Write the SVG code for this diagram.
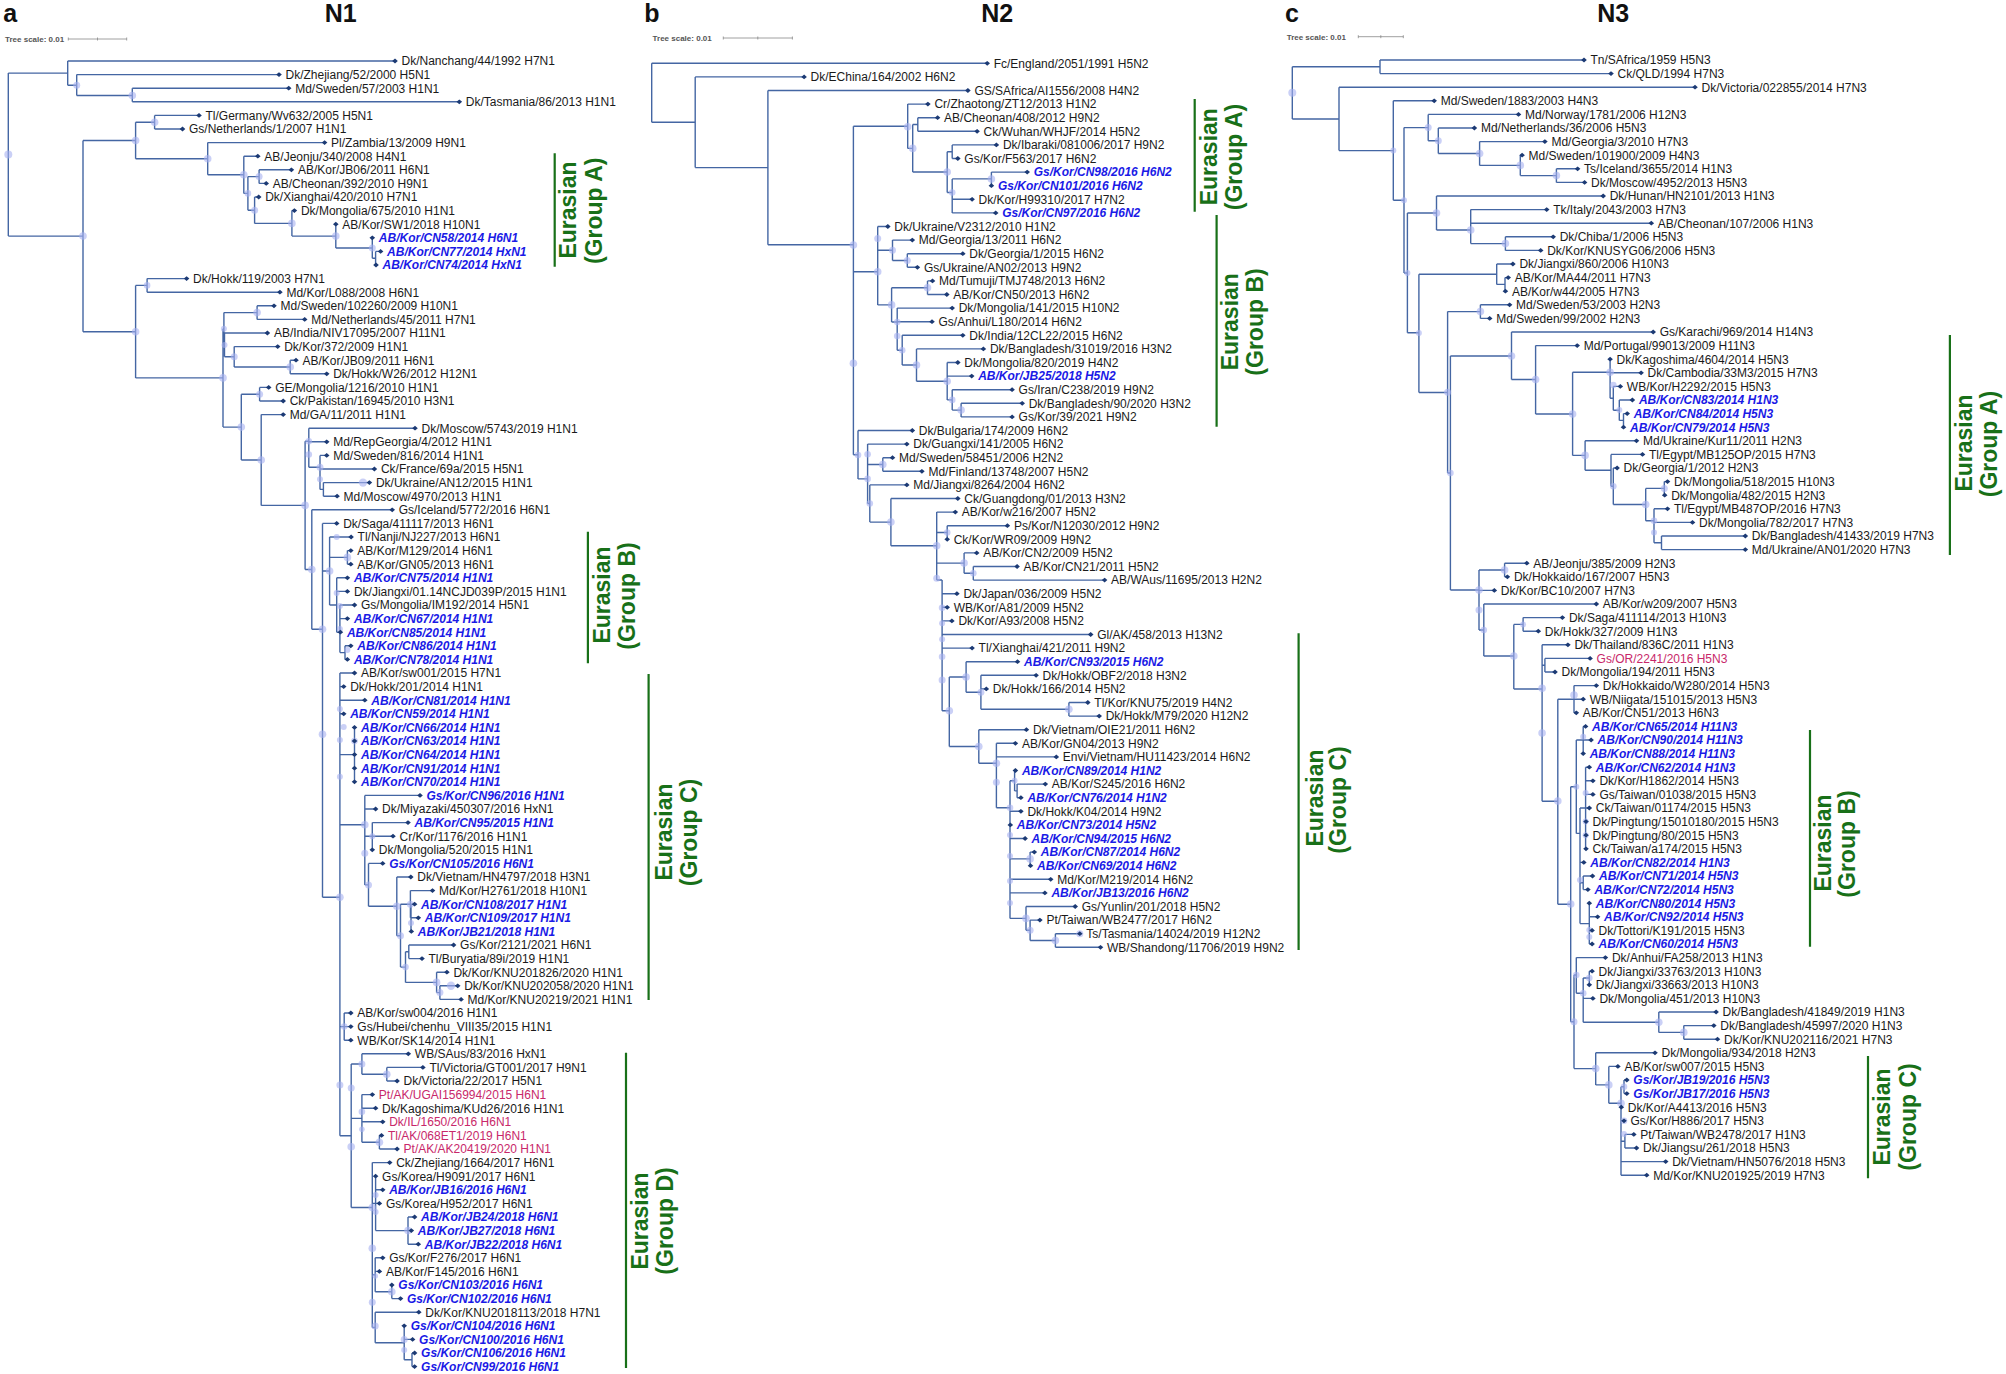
<svg xmlns="http://www.w3.org/2000/svg" xmlns:xlink="http://www.w3.org/1999/xlink" width="2006" height="1374" viewBox="0 0 2006 1374">
<style>
text{font-family:"Liberation Sans",Arial,sans-serif}
.lf text{font-size:12px;fill:#1a1a1a}
.lf text.b{font-weight:bold;font-style:italic;fill:#1a1ae6}
.lf text.p{fill:#c8286a}
.br{fill:none;stroke:#4466a3;stroke-width:1.4}
.bs{fill:#a7b0f0;fill-opacity:.6}
.gl{stroke:#187018;stroke-width:2.2}
.gt{font-size:23px;font-weight:bold;fill:#187018}
.ttl{font-size:25px;font-weight:bold;fill:#111}
.sc{font-size:8px;font-weight:bold;fill:#555}
.scl{stroke:#888;stroke-width:.8;fill:none}
</style>
<defs>
<path id="dm" d="M-2.8 0L0-2.4L2.8 0L0 2.4Z" fill="#1c3a74"/>
</defs>
<rect width="2006" height="1374" fill="#fff"/>
<g id="titles">
<text class="ttl" x="3.3" y="21.7">a</text>
<text class="ttl" x="340.7" y="21.7" text-anchor="middle">N1</text>
<text class="ttl" x="644.2" y="21.7">b</text>
<text class="ttl" x="997.3" y="21.7" text-anchor="middle">N2</text>
<text class="ttl" x="1285" y="21.7">c</text>
<text class="ttl" x="1613.3" y="21.7" text-anchor="middle">N3</text>
<text class="sc" x="5" y="42">Tree scale: 0.01</text>
<path class="scl" d="M68.3 39H126.7M68.3 37.5V40.5M97.5 37.5V40.5M126.7 37.5V40.5"/>
<text class="sc" x="652.6" y="41">Tree scale: 0.01</text>
<path class="scl" d="M723.3 38H792.4M723.3 36.5V39.5M757.8 36.5V39.5M792.4 36.5V39.5"/>
<text class="sc" x="1286.7" y="39.7">Tree scale: 0.01</text>
<path class="scl" d="M1358.3 36.7H1403.3M1358.3 35.2V38.2M1380.8 35.2V38.2M1403.3 35.2V38.2"/>
</g>
<g id="connectors">
<path class="br" d="M8.3,73.1V236.1M8.3,73.1H67.7M8.3,236.1H83M67.7,61V85.3M67.7,61H395M67.7,85.3H76.7M76.7,74.6V95.5M76.7,74.6H279M76.7,95.5H132.3M132.3,88.2V101.8M132.3,88.2H288.7M132.3,101.8H459.3M83,140.5V331.7M83,140.5H135.6M83,331.7H135.6M135.6,122.2V158.7M135.6,122.2H154.6M135.6,158.7H207.7M154.6,115.4V129M154.6,115.4H199M154.6,129H182.5M207.7,142.6V174.8M207.7,142.6H324.6M207.7,174.8H243.8M243.8,156.2V193.4M243.8,156.2H257.8M243.8,193.4H247.9M247.9,176.6V210.2M247.9,176.6H259.1M247.9,210.2H254.6M259.1,169.8V183.4M259.1,169.8H291.4M259.1,183.4H266.2M254.6,197V223.4M254.6,197H258.7M254.6,223.4H291.9M291.9,210.6V236.1M291.9,210.6H294.4M291.9,236.1H335.8M335.8,224.2V248M335.8,248H372.3M372.3,237.8V258.2M372.3,258.2H375.6M375.6,251.4V265M375.6,251.4H380.6M375.6,265H376"/>
<path class="br" d="M135.6,285.4V377.9M135.6,285.4H147.1M135.6,377.9H223M147.1,278.6V292.2M147.1,278.6H186.6M147.1,292.2H279.9M223,328.8V427.1M223,328.8H223.9M223,427.1H241.3M223.9,312.6V344.9M223.9,312.6H257.1M223.9,344.9H224.5M257.1,305.8V319.4M257.1,305.8H274M257.1,319.4H304.7M224.5,333V356.8M224.5,333H267.4M224.5,356.8H234.2M234.2,346.6V367M234.2,346.6H277.7M234.2,367H290.2M290.2,360.2V373.8M290.2,360.2H296M290.2,373.8H326.7M241.3,394.2V460M241.3,394.2H259.6M241.3,460H261.2M259.6,387.4V401M259.6,387.4H268.7M259.6,401H283.2M261.2,414.6V505.4M261.2,414.6H283.2M261.2,505.4H305.1M305.1,441.3V569.5M305.1,441.3H308.8M305.1,569.5H311.8M308.8,428.2V467.3M308.8,428.2H415M308.8,441.8H326.7M308.8,467.3H320M320,455.4V489.4M320,455.4H326.7M320,469H374.4M320,489.4H323.4M323.4,482.6V496.2M323.4,482.6H369.4M323.4,496.2H337.1M311.8,509.8V629.3M311.8,509.8H392.2M311.8,629.3H322.5M322.5,523.4V897.3M322.5,523.4H336.7M322.5,571H329.6M322.5,897.3H339.9M329.6,537V605M329.6,537H351.1M329.6,557.4H347.4M329.6,605H336.7M347.4,550.6V564.2M347.4,550.6H350.8M347.4,564.2H350.8M336.7,577.8V632.2M336.7,577.8H347.4M336.7,591.4H347.4M336.7,632.2H339.9M339.9,605V652.6M339.9,605H354.5M339.9,618.6H347.4M339.9,652.6H345M345,645.8V659.4M345,645.8H350.8M345,659.4H347.4"/>
<path class="br" d="M339.9,673V1135.8M339.9,673H354.5M339.9,686.6H343.7M339.9,700.2H364.8M339.9,713.8H343.7M339.9,754.6H354.5M339.9,824.7H364.8M339.9,1026.6H344.2M339.9,1135.8H351.2M354.5,727.4V781.8M364.8,795.4V884.9M364.8,795.4H420M364.8,809H375.6M364.8,836.2H372.3M364.8,884.9H368.5M372.3,822.6V849.8M372.3,822.6H408M372.3,836.2H393M368.5,863.4V906.3M368.5,863.4H382.7M368.5,906.3H396.8M396.8,877V935.7M396.8,877H410.8M396.8,935.7H400.5M400.5,904.2V967.1M400.5,904.2H410.4M400.5,967.1H405.5M410.4,890.6V917.8M410.4,890.6H432.5M410.4,917.8H411M411,904.2V931.4M411,904.2H414.6M411,917.8H418.3M411,931.4H411.3M405.5,951.8V982.4M405.5,951.8H408.8M405.5,982.4H436.6M408.8,945V958.6M408.8,945H453.6M408.8,958.6H422M436.6,972.2V992.6M436.6,972.2H446.9M436.6,992.6H439.9M439.9,985.8V999.4M439.9,985.8H457.7M439.9,999.4H461.1M344.2,1013V1040.2M344.2,1013H350.8M344.2,1026.6H350.8M344.2,1040.2H350.8"/>
<path class="br" d="M351.2,1064V1207.5M351.2,1064H361.9M351.2,1118.4H361.9M351.2,1207.5H372.3M361.9,1053.8V1074.2M361.9,1053.8H408.3M361.9,1074.2H386.8M386.8,1067.4V1081M386.8,1067.4H422.9M386.8,1081H397.1M361.9,1094.6V1142.2M361.9,1094.6H372.3M361.9,1108.2H375.6M361.9,1121.8H382.7M361.9,1142.2H379.4M379.4,1135.4V1149M379.4,1135.4H381.5M379.4,1149H397.1M372.3,1162.6V1327.5M372.3,1162.6H389.7M372.3,1203.4H375.6M372.3,1274.8H375.2M372.3,1327.5H375.2M375.6,1176.2V1230.6M375.6,1189.8H382.7M375.6,1203.4H379.4M375.6,1230.6H408M408,1217V1244.2M408,1217H414.6M408,1230.6H411.3M408,1244.2H418.3M375.2,1257.8V1291.8M375.2,1257.8H382.7M375.2,1271.4H379.4M375.2,1291.8H391.8M391.8,1285V1298.6M391.8,1298.6H400.5M375.2,1312.2V1342.8M375.2,1312.2H418.8M375.2,1342.8H404.2M404.2,1325.8V1359.8M404.2,1339.4H412.6M404.2,1359.8H412M412,1353V1366.6M412,1353H414.6M412,1366.6H414.6"/>
<path class="br" d="M651.7,63.3V122.3M651.7,63.3H987.2M651.7,122.3H695.2M695.2,76.9V167.6M695.2,76.9H804.1M695.2,167.6H767.9M767.9,90.5V244.8M767.9,90.5H967.9M767.9,244.8H853.4M853.4,126.2V454.7M853.4,126.2H907.7M853.4,271.7H877.7M853.4,454.7H858M907.7,104.1V148.4M907.7,104.1H927.9M907.7,148.4H912.7M912.7,124.5V172M912.7,124.5H917.8M912.7,172H947.2M917.8,117.7V131.3M917.8,117.7H937.6M917.8,131.3H977.1M947.2,151.7V192.5M947.2,151.7H952.2M947.2,192.5H952.2M952.2,144.9V158.5M952.2,144.9H996.4M952.2,158.5H957.8M952.2,178.9V212.9M952.2,178.9H991.4M952.2,199.3H972.1M952.2,212.9H995.7M991.4,172.1V185.7M991.4,172.1H1027.2M877.7,226.5V304.9M877.7,226.5H887.8M877.7,250.3H892.5M877.7,304.9H891.6M892.5,240.1V260.5M892.5,240.1H912.3M892.5,260.5H907.3M907.3,253.7V267.3M907.3,253.7H962.8M907.3,267.3H917.4M891.6,287.7V322M891.6,287.7H927.5M891.6,322H897.2M927.5,280.9V294.5M927.5,280.9H932.5M927.5,294.5H946.8M897.2,308.1V350.2M897.2,308.1H952.2M897.2,321.7H932M897.2,350.2H902.2M902.2,335.3V365M902.2,335.3H962.8M902.2,365H916.5M916.5,348.9V381.2M916.5,348.9H983.4M916.5,381.2H947.2M947.2,362.5V399.9M947.2,362.5H957.8M947.2,376.1H971.7M947.2,399.9H952.2M952.2,389.7V410.1M952.2,389.7H1012.1M952.2,410.1H961.1M961.1,403.3V416.9M961.1,403.3H1022.2M961.1,416.9H1012.1"/>
<path class="br" d="M858,430.5V478.9M858,430.5H912.3M858,478.9H867.6M867.6,444.1V503.5M867.6,444.1H906.8M867.6,464.5H882.8M867.6,503.5H869.8M882.8,457.7V471.3M882.8,457.7H892.5M882.8,471.3H921.9M869.8,484.9V522.1M869.8,484.9H906.8M869.8,522.1H890.9M890.9,498.5V545.7M890.9,498.5H957.8M890.9,545.7H936.7M936.7,512.1V580M936.7,512.1H955.3M936.7,532.5H947.2M936.7,563.1H964.1M936.7,580H942.1M947.2,525.7V539.3M947.2,525.7H1007.4M964.1,552.9V573.3M964.1,552.9H976.7M964.1,573.3H973.3M973.3,566.5V580.1M973.3,566.5H1017.1M973.3,580.1H1104.6M942.1,580V710.8M942.1,593.7H956.9M942.1,607.3H947.2M942.1,620.9H951.9M942.1,634.5H1090.7M942.1,648.1H972.1M942.1,710.8H949.3M949.3,677V746.5M949.3,677H966.1M949.3,746.5H978.8M966.1,661.7V692.3M966.1,661.7H1017.5M966.1,692.3H980.9M980.9,675.3V709.3M980.9,675.3H1036.1M980.9,688.9H986.3M980.9,709.3H1068.9M1068.9,702.5V716.1M1068.9,702.5H1087.8M1068.9,716.1H1099.2M978.8,729.7V763.3M978.8,729.7H1026.4M978.8,763.3H996.4M996.4,743.3V807.7M996.4,743.3H1015.4M996.4,756.9H1056.3M996.4,807.7H1010M1010,780.7V918.4M1010,780.7H1014.6M1010,811.3H1020.9M1010,838.5H1025.1M1010,858.9H1030.1M1010,879.3H1050.7M1010,892.9H1044.9M1010,918.4H1026M1014.6,770.5V790.9M1014.6,770.5H1015.4M1014.6,790.9H1017.1M1017.1,784.1V797.7M1017.1,784.1H1045.3M1017.1,797.7H1020.9M1030.1,852.1V865.7M1030.1,852.1H1034.3M1026,906.5V930.3M1026,906.5H1075.2M1026,930.3H1030.1M1030.1,920.1V940.5M1030.1,920.1H1039.9M1030.1,940.5H1055.4M1055.4,933.7V947.3M1055.4,933.7H1079.8M1055.4,947.3H1100.5"/>
<path class="br" d="M1292.3,66.8V118.95M1292.3,66.8H1380M1292.3,118.95H1339M1380,60V73.6M1380,60H1584M1380,73.6H1611M1339,87.2V150.6M1339,87.2H1695M1339,150.6H1393.3M1393.3,100.8V200.3M1393.3,100.8H1434.2M1393.3,200.3H1404M1404,127.6V273M1404,127.6H1428.2M1404,273H1407.4M1428.2,114.4V140.75M1428.2,114.4H1518.5M1428.2,140.75H1438.3M1438.3,128V153.5M1438.3,128H1474.4M1438.3,153.5H1479.6M1479.6,141.6V165.4M1479.6,141.6H1544.9M1479.6,165.4H1520.3M1520.3,155.2V175.6M1520.3,155.2H1522.1M1520.3,175.6H1556.4M1556.4,168.8V182.4M1556.4,168.8H1577.6M1556.4,182.4H1584.6M1407.4,213V332.8M1407.4,213H1436.5M1407.4,332.8H1418.9M1436.5,196V230M1436.5,196H1603.2M1436.5,230H1470.7M1470.7,209.6V243.6M1470.7,209.6H1546.7M1470.7,223.2H1651.3M1470.7,243.6H1505.4M1505.4,236.8V250.4M1505.4,236.8H1553.2M1505.4,250.4H1540.7M1418.9,274.2V392.45M1418.9,274.2H1496.7M1418.9,392.45H1447.6M1496.7,264V284.4M1496.7,264H1512.9M1496.7,284.4H1505M1505,277.6V291.2M1505,277.6H1508.2M1505,291.2H1505.4M1447.6,311.6V473M1447.6,311.6H1480.4M1447.6,473H1450.4M1480.4,304.8V318.4M1480.4,304.8H1509.6M1480.4,318.4H1489.7M1450.4,356V590M1450.4,356H1511.5M1450.4,590H1479"/>
<path class="br" d="M1511.5,332V379.5M1511.5,332H1653.2M1511.5,379.5H1535.6M1535.6,345.6V414M1535.6,345.6H1577.2M1535.6,414H1572.6M1572.6,372.3V455.4M1572.6,372.3H1610.1M1572.6,455.4H1585.1M1610.1,359.2V398.3M1610.1,372.8H1641.1M1610.1,398.3H1613.3M1613.3,386.4V410.2M1613.3,386.4H1620.3M1613.3,410.2H1619.3M1619.3,400V420.4M1619.3,400H1632.4M1619.3,420.4H1623.5M1623.5,413.6V427.2M1623.5,413.6H1627.2M1585.1,440.8V470.3M1585.1,440.8H1636.5M1585.1,470.3H1611M1611,454.4V486.2M1611,454.4H1642.5M1611,486.2H1613.3M1613.3,468V504.5M1613.3,468H1617.1M1613.3,504.5H1645.7M1645.7,488.4V520.7M1645.7,488.4H1664.3M1645.7,520.7H1654M1664.3,481.6V495.2M1664.3,481.6H1667.5M1664.3,495.2H1664.7M1654,508.8V542.8M1654,508.8H1667.5M1654,522.4H1692.5M1654,542.8H1661.5M1661.5,536V549.6M1661.5,536H1745.3M1661.5,549.6H1745.3"/>
<path class="br" d="M1479,570V630M1479,570H1504.6M1479,590.4H1494.3M1479,630H1483.8M1504.6,563.2V576.8M1504.6,563.2H1526.8M1504.6,576.8H1507.4M1483.8,604V656M1483.8,604H1596.3M1483.8,656H1513.8M1513.8,624.4V689M1513.8,624.4H1523.1M1513.8,689H1542.1M1523.1,617.6V631.2M1523.1,617.6H1562.4M1523.1,631.2H1538.3M1542.1,644.8V801.25M1542.1,644.8H1567.9M1542.1,665.2H1544.9M1542.1,801.25H1557.8M1544.9,658.4V672M1544.9,658.4H1590.1M1544.9,672H1555M1557.8,699.2V904.2M1557.8,699.2H1574M1557.8,904.2H1570.7M1574,685.6V712.8M1574,685.6H1596.3M1574,699.2H1583.2M1574,712.8H1576.3M1570.7,786.7V1021.7M1570.7,786.7H1576.3M1570.7,1021.7H1574M1576.3,740V833.4M1576.3,740H1583.2M1576.3,833.4H1580M1583.2,726.4V753.6M1583.2,726.4H1585.6M1583.2,740H1591.1M1580,808V923.6M1580,808H1585.6M1580,862.4H1583.8M1580,882.8H1583.2M1580,923.6H1589.3M1585.6,767.2V848.8M1585.6,767.2H1589.3M1585.6,780.8H1592.9M1585.6,794.4H1592.9M1585.6,808H1589.3M1583.2,876V889.6M1583.2,876H1592.5M1583.2,889.6H1587.9M1589.3,903.2V944M1589.3,916.8H1597.6M1589.3,930.4H1592.1M1589.3,944H1592.1M1574,975V1068.6M1574,975H1576.3M1574,1068.6H1595.7M1576.3,957.6V993.3M1576.3,957.6H1605.4M1576.3,993.3H1583.2M1583.2,978V1022.2M1583.2,978H1589.3M1583.2,998.4H1592.9M1583.2,1022.2H1658.8M1589.3,971.2V984.8M1589.3,971.2H1592.1M1658.8,1012V1032.4M1658.8,1012H1716.1M1658.8,1032.4H1683.8M1683.8,1025.6V1039.2M1683.8,1025.6H1713.8M1683.8,1039.2H1717.5M1595.7,1052.8V1084.9M1595.7,1052.8H1655M1595.7,1084.9H1608.8M1608.8,1066.4V1103.3M1608.8,1066.4H1617.9M1608.8,1103.3H1621M1621,1086.8V1175.2M1621,1086.8H1624M1621,1120.8H1624M1621,1141.2H1624.9M1621,1161.6H1665.7M1621,1175.2H1646.7M1624,1080V1093.6M1624,1080H1626.8M1624,1093.6H1626.8M1624.9,1134.4V1148M1624.9,1134.4H1633.8M1624.9,1148H1636.5"/>
</g>
<g id="support">
<circle class="bs" cx="8.3" cy="154.6" r="4"/><circle class="bs" cx="76.7" cy="85.3" r="3.5"/><circle class="bs" cx="132.3" cy="95.5" r="3.8"/><circle class="bs" cx="83" cy="236" r="3.8"/><circle class="bs" cx="135.6" cy="140.5" r="3.8"/><circle class="bs" cx="154.6" cy="122.2" r="3.8"/><circle class="bs" cx="207.7" cy="158.7" r="3.8"/><circle class="bs" cx="243.8" cy="174.8" r="3.8"/><circle class="bs" cx="259.1" cy="176.6" r="3.5"/><circle class="bs" cx="247.9" cy="193.4" r="3.3"/><circle class="bs" cx="254.6" cy="210.2" r="3.5"/><circle class="bs" cx="291.9" cy="223.4" r="3.8"/><circle class="bs" cx="335.8" cy="236.1" r="3.8"/><circle class="bs" cx="372.3" cy="248" r="3.5"/>
<circle class="bs" cx="147.1" cy="285.4" r="3.3"/><circle class="bs" cx="135.6" cy="331.7" r="3.8"/><circle class="bs" cx="257.1" cy="312.6" r="3.8"/><circle class="bs" cx="223.9" cy="328.8" r="3"/><circle class="bs" cx="224.5" cy="344.9" r="3"/><circle class="bs" cx="234.2" cy="356.8" r="3.5"/><circle class="bs" cx="290.2" cy="367" r="3.8"/><circle class="bs" cx="223" cy="377.9" r="3.8"/><circle class="bs" cx="259.6" cy="394.2" r="3.5"/><circle class="bs" cx="241.3" cy="427.1" r="3.8"/><circle class="bs" cx="261.2" cy="460" r="3.8"/><circle class="bs" cx="308.8" cy="441.3" r="3.3"/><circle class="bs" cx="308.8" cy="454.5" r="3.3"/><circle class="bs" cx="320" cy="467.3" r="3.5"/><circle class="bs" cx="320" cy="479.2" r="3"/><circle class="bs" cx="363" cy="482.6" r="4.2"/><circle class="bs" cx="305.1" cy="505.4" r="3.8"/><circle class="bs" cx="311.8" cy="569.5" r="3.8"/><circle class="bs" cx="336.7" cy="537" r="3"/><circle class="bs" cx="347.4" cy="557.4" r="3.8"/><circle class="bs" cx="329.6" cy="571" r="3.8"/><circle class="bs" cx="336.7" cy="593" r="3"/><circle class="bs" cx="339.9" cy="606" r="3"/><circle class="bs" cx="339.9" cy="629" r="3"/><circle class="bs" cx="347.4" cy="650" r="3"/><circle class="bs" cx="322.5" cy="629.3" r="3.8"/><circle class="bs" cx="322.5" cy="734.2" r="3.8"/>
<circle class="bs" cx="339.9" cy="709" r="3"/><circle class="bs" cx="343.7" cy="727" r="3"/><circle class="bs" cx="354.5" cy="741" r="3.3"/><circle class="bs" cx="339.9" cy="740" r="3"/><circle class="bs" cx="339.9" cy="776.7" r="3"/><circle class="bs" cx="364.8" cy="824.7" r="3.8"/><circle class="bs" cx="372.3" cy="836.2" r="3"/><circle class="bs" cx="364.8" cy="853.3" r="3.5"/><circle class="bs" cx="368.5" cy="884.9" r="3.5"/><circle class="bs" cx="396.8" cy="906.3" r="3.8"/><circle class="bs" cx="410.4" cy="904.2" r="3.5"/><circle class="bs" cx="411" cy="923" r="3"/><circle class="bs" cx="400.5" cy="935.7" r="3.5"/><circle class="bs" cx="405.5" cy="967.1" r="3.3"/><circle class="bs" cx="436.6" cy="982.4" r="3.8"/><circle class="bs" cx="451" cy="985.8" r="4.2"/><circle class="bs" cx="439.9" cy="992.6" r="3.5"/><circle class="bs" cx="339.9" cy="897.3" r="3.8"/><circle class="bs" cx="344.2" cy="1026.6" r="3.3"/><circle class="bs" cx="339.9" cy="1085" r="3.5"/><circle class="bs" cx="351.2" cy="1088" r="3.5"/><circle class="bs" cx="361.9" cy="1064" r="3.5"/><circle class="bs" cx="386.8" cy="1074.2" r="3.8"/><circle class="bs" cx="361.9" cy="1111.7" r="3.3"/><circle class="bs" cx="361.9" cy="1129.3" r="2.8"/><circle class="bs" cx="379.4" cy="1142.2" r="3.8"/><circle class="bs" cx="351.2" cy="1146.7" r="3.8"/><circle class="bs" cx="372.3" cy="1207.5" r="3.8"/><circle class="bs" cx="375.6" cy="1195" r="3"/><circle class="bs" cx="375.6" cy="1212" r="3"/><circle class="bs" cx="408" cy="1230.6" r="3.8"/><circle class="bs" cx="372.3" cy="1248.3" r="3.8"/><circle class="bs" cx="375.2" cy="1276" r="2.8"/><circle class="bs" cx="391.8" cy="1291.8" r="3.8"/><circle class="bs" cx="372.3" cy="1302.3" r="3.5"/><circle class="bs" cx="375.2" cy="1326" r="3.5"/><circle class="bs" cx="404.2" cy="1339.4" r="3.5"/><circle class="bs" cx="404.2" cy="1350" r="3"/>
<circle class="bs" cx="853.4" cy="245" r="3.8"/><circle class="bs" cx="853.4" cy="363.3" r="3.8"/><circle class="bs" cx="907.7" cy="126.7" r="3.8"/><circle class="bs" cx="912.7" cy="148.4" r="3.8"/><circle class="bs" cx="947.2" cy="172" r="3.8"/><circle class="bs" cx="952.2" cy="192.5" r="3.3"/><circle class="bs" cx="991.4" cy="179" r="3.8"/><circle class="bs" cx="877.7" cy="238.4" r="3.5"/><circle class="bs" cx="877.7" cy="271.7" r="3.8"/><circle class="bs" cx="892.5" cy="250.3" r="3.5"/><circle class="bs" cx="907.3" cy="260.5" r="3.5"/><circle class="bs" cx="927.5" cy="287.7" r="3.8"/><circle class="bs" cx="891.6" cy="304.9" r="3.8"/><circle class="bs" cx="897.2" cy="322" r="3.3"/><circle class="bs" cx="897.2" cy="336" r="3.3"/><circle class="bs" cx="902.2" cy="350.2" r="3.3"/><circle class="bs" cx="916.5" cy="365" r="3.8"/><circle class="bs" cx="947.2" cy="381.2" r="3.8"/><circle class="bs" cx="952.2" cy="399.9" r="3.3"/><circle class="bs" cx="961.1" cy="410.1" r="3.8"/>
<circle class="bs" cx="858" cy="455" r="3.3"/><circle class="bs" cx="867.6" cy="454.3" r="3.3"/><circle class="bs" cx="882.8" cy="464.5" r="3.8"/><circle class="bs" cx="867.6" cy="478.9" r="3.3"/><circle class="bs" cx="869.8" cy="503.5" r="3.3"/><circle class="bs" cx="890.9" cy="522.1" r="3.8"/><circle class="bs" cx="936.7" cy="545.7" r="3.8"/><circle class="bs" cx="947.2" cy="532.5" r="3.3"/><circle class="bs" cx="936.7" cy="578.3" r="3.5"/><circle class="bs" cx="964.1" cy="563.1" r="3.8"/><circle class="bs" cx="973.3" cy="573.3" r="3.3"/><circle class="bs" cx="942.1" cy="607.7" r="3.3"/><circle class="bs" cx="942.1" cy="623.3" r="3"/><circle class="bs" cx="942.1" cy="639.3" r="3"/><circle class="bs" cx="942.1" cy="656.7" r="3.3"/><circle class="bs" cx="942.1" cy="680" r="3.5"/><circle class="bs" cx="949.3" cy="710.8" r="3.8"/><circle class="bs" cx="966.1" cy="677" r="3.8"/><circle class="bs" cx="980.9" cy="692.3" r="3.5"/><circle class="bs" cx="1068.9" cy="709.3" r="3.8"/><circle class="bs" cx="978.8" cy="746.5" r="3.8"/><circle class="bs" cx="996.4" cy="763.3" r="3.8"/><circle class="bs" cx="996.4" cy="782.3" r="3.5"/><circle class="bs" cx="1010" cy="807.7" r="3.3"/><circle class="bs" cx="1014.6" cy="780.7" r="3"/><circle class="bs" cx="1010" cy="835" r="3"/><circle class="bs" cx="1010" cy="856" r="3"/><circle class="bs" cx="1030.1" cy="858.9" r="3.8"/><circle class="bs" cx="1010" cy="881" r="3"/><circle class="bs" cx="1010" cy="903" r="3"/><circle class="bs" cx="1026" cy="918.4" r="3.8"/><circle class="bs" cx="1030.1" cy="930.3" r="3.5"/><circle class="bs" cx="1055.4" cy="940.5" r="3.8"/><circle class="bs" cx="1079.8" cy="933.7" r="3.5"/>
<circle class="bs" cx="1292.3" cy="92.7" r="4"/><circle class="bs" cx="1393.3" cy="150.6" r="3"/><circle class="bs" cx="1404" cy="200.3" r="3"/><circle class="bs" cx="1428.2" cy="127.6" r="3.5"/><circle class="bs" cx="1438.3" cy="140.75" r="3.5"/><circle class="bs" cx="1479.6" cy="153.5" r="3.8"/><circle class="bs" cx="1520.3" cy="165.4" r="3.8"/><circle class="bs" cx="1556.4" cy="175.6" r="3.8"/><circle class="bs" cx="1407.4" cy="273" r="3"/><circle class="bs" cx="1436.5" cy="213" r="3.8"/><circle class="bs" cx="1470.7" cy="230" r="3.8"/><circle class="bs" cx="1505.4" cy="243.6" r="3.8"/><circle class="bs" cx="1418.9" cy="333" r="3"/><circle class="bs" cx="1447.6" cy="392.3" r="3.5"/><circle class="bs" cx="1480.4" cy="311.6" r="3.8"/><circle class="bs" cx="1450.4" cy="473" r="3.3"/><circle class="bs" cx="1511.5" cy="356" r="3.8"/><circle class="bs" cx="1535.6" cy="379.5" r="3.8"/><circle class="bs" cx="1572.6" cy="414" r="3.8"/><circle class="bs" cx="1610.1" cy="372.3" r="3.8"/><circle class="bs" cx="1613.3" cy="385" r="3.3"/><circle class="bs" cx="1619.3" cy="410" r="3"/><circle class="bs" cx="1585.1" cy="455.4" r="3.8"/><circle class="bs" cx="1613.3" cy="486.2" r="3.3"/><circle class="bs" cx="1645.7" cy="504.5" r="3.8"/><circle class="bs" cx="1664.3" cy="488.4" r="3.5"/><circle class="bs" cx="1654" cy="520.7" r="3.3"/><circle class="bs" cx="1654" cy="532.6" r="3"/>
<circle class="bs" cx="1504.6" cy="570" r="3.8"/><circle class="bs" cx="1479" cy="590" r="3.8"/><circle class="bs" cx="1479" cy="610" r="3.5"/><circle class="bs" cx="1483.8" cy="630" r="3.3"/><circle class="bs" cx="1513.8" cy="656" r="3.8"/><circle class="bs" cx="1523.1" cy="624.4" r="3"/><circle class="bs" cx="1542.1" cy="688.3" r="3.8"/><circle class="bs" cx="1542.1" cy="733" r="3.8"/><circle class="bs" cx="1574" cy="695" r="3.8"/><circle class="bs" cx="1557.8" cy="801" r="3.8"/><circle class="bs" cx="1570.7" cy="904" r="3.8"/><circle class="bs" cx="1583.2" cy="736.7" r="3"/><circle class="bs" cx="1576.3" cy="786.7" r="3"/><circle class="bs" cx="1585.6" cy="793" r="3"/><circle class="bs" cx="1585.6" cy="821.6" r="3"/><circle class="bs" cx="1585.6" cy="835.2" r="3"/><circle class="bs" cx="1580" cy="880" r="3"/><circle class="bs" cx="1589.3" cy="930" r="3"/><circle class="bs" cx="1589.3" cy="937" r="3"/><circle class="bs" cx="1576.3" cy="975" r="3.3"/><circle class="bs" cx="1583.2" cy="993.3" r="3.3"/><circle class="bs" cx="1589.3" cy="978" r="3.3"/><circle class="bs" cx="1574" cy="1021.7" r="3.5"/><circle class="bs" cx="1658.8" cy="1022.2" r="3.8"/><circle class="bs" cx="1683.8" cy="1032.4" r="3.8"/><circle class="bs" cx="1595.7" cy="1068.6" r="3.8"/><circle class="bs" cx="1608.8" cy="1084.9" r="3.8"/><circle class="bs" cx="1624" cy="1086.7" r="3.3"/><circle class="bs" cx="1621" cy="1103.3" r="3.8"/><circle class="bs" cx="1624" cy="1120.8" r="3.3"/><circle class="bs" cx="1624" cy="1134" r="3"/>
</g>
<g id="clades">
<path class="gl" d="M554.7 153.3V266.7M587.9 531.7V663.3M648.6 674V1000M626 1052.7V1368M1194.7 99V211.7M1216.6 215V426.7M1298.6 633.3V950M1949.9 335V555M1810 730V946.7M1868 1056V1178.3"/>
<text class="gt" transform="translate(568,210) rotate(-90)" text-anchor="middle" dy="8.2">Eurasian</text>
<text class="gt" transform="translate(595.8,210.8) rotate(-90)" text-anchor="middle" dy="6">(Group A)</text>
<text class="gt" transform="translate(602,595) rotate(-90)" text-anchor="middle" dy="8.2">Eurasian</text>
<text class="gt" transform="translate(629,596) rotate(-90)" text-anchor="middle" dy="6">(Group B)</text>
<text class="gt" transform="translate(664,832) rotate(-90)" text-anchor="middle" dy="8.2">Eurasian</text>
<text class="gt" transform="translate(691.3,832.5) rotate(-90)" text-anchor="middle" dy="6">(Group C)</text>
<text class="gt" transform="translate(640,1221) rotate(-90)" text-anchor="middle" dy="8.2">Eurasian</text>
<text class="gt" transform="translate(667,1221) rotate(-90)" text-anchor="middle" dy="6">(Group D)</text>
<text class="gt" transform="translate(1209,156.7) rotate(-90)" text-anchor="middle" dy="8.2">Eurasian</text>
<text class="gt" transform="translate(1236.4,157) rotate(-90)" text-anchor="middle" dy="6">(Group A)</text>
<text class="gt" transform="translate(1230,321.7) rotate(-90)" text-anchor="middle" dy="8.2">Eurasian</text>
<text class="gt" transform="translate(1257.4,322) rotate(-90)" text-anchor="middle" dy="6">(Group B)</text>
<text class="gt" transform="translate(1314.7,798) rotate(-90)" text-anchor="middle" dy="8.2">Eurasian</text>
<text class="gt" transform="translate(1340.2,800) rotate(-90)" text-anchor="middle" dy="6">(Group C)</text>
<text class="gt" transform="translate(1963.8,443) rotate(-90)" text-anchor="middle" dy="8.2">Eurasian</text>
<text class="gt" transform="translate(1990.6,444) rotate(-90)" text-anchor="middle" dy="6">(Group A)</text>
<text class="gt" transform="translate(1822.6,843) rotate(-90)" text-anchor="middle" dy="8.2">Eurasian</text>
<text class="gt" transform="translate(1848.5,844) rotate(-90)" text-anchor="middle" dy="6">(Group B)</text>
<text class="gt" transform="translate(1881.9,1117) rotate(-90)" text-anchor="middle" dy="8.2">Eurasian</text>
<text class="gt" transform="translate(1909.6,1117) rotate(-90)" text-anchor="middle" dy="6">(Group C)</text>
</g>
<g id="leaves-N1" class="lf">
<g id="a1" transform="translate(395,61)"><use href="#dm"/><text x="6.5" y="4.3">Dk/Nanchang/44/1992 H7N1</text></g>
<g id="a2" transform="translate(279,74.6)"><use href="#dm"/><text x="6.5" y="4.3">Dk/Zhejiang/52/2000 H5N1</text></g>
<g id="a3" transform="translate(288.7,88.2)"><use href="#dm"/><text x="6.5" y="4.3">Md/Sweden/57/2003 H1N1</text></g>
<g id="a4" transform="translate(459.3,101.8)"><use href="#dm"/><text x="6.5" y="4.3">Dk/Tasmania/86/2013 H1N1</text></g>
<g id="a5" transform="translate(199,115.4)"><use href="#dm"/><text x="6.5" y="4.3">Tl/Germany/Wv632/2005 H5N1</text></g>
<g id="a6" transform="translate(182.5,129)"><use href="#dm"/><text x="6.5" y="4.3">Gs/Netherlands/1/2007 H1N1</text></g>
<g id="a7" transform="translate(324.6,142.6)"><use href="#dm"/><text x="6.5" y="4.3">Pl/Zambia/13/2009 H9N1</text></g>
<g id="a8" transform="translate(257.8,156.2)"><use href="#dm"/><text x="6.5" y="4.3">AB/Jeonju/340/2008 H4N1</text></g>
<g id="a9" transform="translate(291.4,169.8)"><use href="#dm"/><text x="6.5" y="4.3">AB/Kor/JB06/2011 H6N1</text></g>
<g id="a10" transform="translate(266.2,183.4)"><use href="#dm"/><text x="6.5" y="4.3">AB/Cheonan/392/2010 H9N1</text></g>
<g id="a11" transform="translate(258.7,197)"><use href="#dm"/><text x="6.5" y="4.3">Dk/Xianghai/420/2010 H7N1</text></g>
<g id="a12" transform="translate(294.4,210.6)"><use href="#dm"/><text x="6.5" y="4.3">Dk/Mongolia/675/2010 H1N1</text></g>
<g id="a13" transform="translate(335.8,224.2)"><use href="#dm"/><text x="6.5" y="4.3">AB/Kor/SW1/2018 H10N1</text></g>
<g id="a14" transform="translate(372.3,237.8)"><use href="#dm"/><text class="b" x="6.5" y="4.3">AB/Kor/CN58/2014 H6N1</text></g>
<g id="a15" transform="translate(380.6,251.4)"><use href="#dm"/><text class="b" x="6.5" y="4.3">AB/Kor/CN77/2014 HxN1</text></g>
<g id="a16" transform="translate(376,265)"><use href="#dm"/><text class="b" x="6.5" y="4.3">AB/Kor/CN74/2014 HxN1</text></g>
<g id="a17" transform="translate(186.6,278.6)"><use href="#dm"/><text x="6.5" y="4.3">Dk/Hokk/119/2003 H7N1</text></g>
<g id="a18" transform="translate(279.9,292.2)"><use href="#dm"/><text x="6.5" y="4.3">Md/Kor/L088/2008 H6N1</text></g>
<g id="a19" transform="translate(274,305.8)"><use href="#dm"/><text x="6.5" y="4.3">Md/Sweden/102260/2009 H10N1</text></g>
<g id="a20" transform="translate(304.7,319.4)"><use href="#dm"/><text x="6.5" y="4.3">Md/Netherlands/45/2011 H7N1</text></g>
<g id="a21" transform="translate(267.4,333)"><use href="#dm"/><text x="6.5" y="4.3">AB/India/NIV17095/2007 H11N1</text></g>
<g id="a22" transform="translate(277.7,346.6)"><use href="#dm"/><text x="6.5" y="4.3">Dk/Kor/372/2009 H1N1</text></g>
<g id="a23" transform="translate(296,360.2)"><use href="#dm"/><text x="6.5" y="4.3">AB/Kor/JB09/2011 H6N1</text></g>
<g id="a24" transform="translate(326.7,373.8)"><use href="#dm"/><text x="6.5" y="4.3">Dk/Hokk/W26/2012 H12N1</text></g>
<g id="a25" transform="translate(268.7,387.4)"><use href="#dm"/><text x="6.5" y="4.3">GE/Mongolia/1216/2010 H1N1</text></g>
<g id="a26" transform="translate(283.2,401)"><use href="#dm"/><text x="6.5" y="4.3">Ck/Pakistan/16945/2010 H3N1</text></g>
<g id="a27" transform="translate(283.2,414.6)"><use href="#dm"/><text x="6.5" y="4.3">Md/GA/11/2011 H1N1</text></g>
<g id="a28" transform="translate(415,428.2)"><use href="#dm"/><text x="6.5" y="4.3">Dk/Moscow/5743/2019 H1N1</text></g>
<g id="a29" transform="translate(326.7,441.8)"><use href="#dm"/><text x="6.5" y="4.3">Md/RepGeorgia/4/2012 H1N1</text></g>
<g id="a30" transform="translate(326.7,455.4)"><use href="#dm"/><text x="6.5" y="4.3">Md/Sweden/816/2014 H1N1</text></g>
<g id="a31" transform="translate(374.4,469)"><use href="#dm"/><text x="6.5" y="4.3">Ck/France/69a/2015 H5N1</text></g>
<g id="a32" transform="translate(369.4,482.6)"><use href="#dm"/><text x="6.5" y="4.3">Dk/Ukraine/AN12/2015 H1N1</text></g>
<g id="a33" transform="translate(337.1,496.2)"><use href="#dm"/><text x="6.5" y="4.3">Md/Moscow/4970/2013 H1N1</text></g>
<g id="a34" transform="translate(392.2,509.8)"><use href="#dm"/><text x="6.5" y="4.3">Gs/Iceland/5772/2016 H6N1</text></g>
<g id="a35" transform="translate(336.7,523.4)"><use href="#dm"/><text x="6.5" y="4.3">Dk/Saga/411117/2013 H6N1</text></g>
<g id="a36" transform="translate(351.1,537)"><use href="#dm"/><text x="6.5" y="4.3">Tl/Nanji/NJ227/2013 H6N1</text></g>
<g id="a37" transform="translate(350.8,550.6)"><use href="#dm"/><text x="6.5" y="4.3">AB/Kor/M129/2014 H6N1</text></g>
<g id="a38" transform="translate(350.8,564.2)"><use href="#dm"/><text x="6.5" y="4.3">AB/Kor/GN05/2013 H6N1</text></g>
<g id="a39" transform="translate(347.4,577.8)"><use href="#dm"/><text class="b" x="6.5" y="4.3">AB/Kor/CN75/2014 H1N1</text></g>
<g id="a40" transform="translate(347.4,591.4)"><use href="#dm"/><text x="6.5" y="4.3">Dk/Jiangxi/01.14NCJD039P/2015 H1N1</text></g>
<g id="a41" transform="translate(354.5,605)"><use href="#dm"/><text x="6.5" y="4.3">Gs/Mongolia/IM192/2014 H5N1</text></g>
<g id="a42" transform="translate(347.4,618.6)"><use href="#dm"/><text class="b" x="6.5" y="4.3">AB/Kor/CN67/2014 H1N1</text></g>
<g id="a43" transform="translate(340.4,632.2)"><use href="#dm"/><text class="b" x="6.5" y="4.3">AB/Kor/CN85/2014 H1N1</text></g>
<g id="a44" transform="translate(350.8,645.8)"><use href="#dm"/><text class="b" x="6.5" y="4.3">AB/Kor/CN86/2014 H1N1</text></g>
<g id="a45" transform="translate(347.4,659.4)"><use href="#dm"/><text class="b" x="6.5" y="4.3">AB/Kor/CN78/2014 H1N1</text></g>
<g id="a46" transform="translate(354.5,673)"><use href="#dm"/><text x="6.5" y="4.3">AB/Kor/sw001/2015 H7N1</text></g>
<g id="a47" transform="translate(343.7,686.6)"><use href="#dm"/><text x="6.5" y="4.3">Dk/Hokk/201/2014 H1N1</text></g>
<g id="a48" transform="translate(364.8,700.2)"><use href="#dm"/><text class="b" x="6.5" y="4.3">AB/Kor/CN81/2014 H1N1</text></g>
<g id="a49" transform="translate(343.7,713.8)"><use href="#dm"/><text class="b" x="6.5" y="4.3">AB/Kor/CN59/2014 H1N1</text></g>
<g id="a50" transform="translate(354.5,727.4)"><use href="#dm"/><text class="b" x="6.5" y="4.3">AB/Kor/CN66/2014 H1N1</text></g>
<g id="a51" transform="translate(354.5,741)"><use href="#dm"/><text class="b" x="6.5" y="4.3">AB/Kor/CN63/2014 H1N1</text></g>
<g id="a52" transform="translate(354.5,754.6)"><use href="#dm"/><text class="b" x="6.5" y="4.3">AB/Kor/CN64/2014 H1N1</text></g>
<g id="a53" transform="translate(354.5,768.2)"><use href="#dm"/><text class="b" x="6.5" y="4.3">AB/Kor/CN91/2014 H1N1</text></g>
<g id="a54" transform="translate(354.5,781.8)"><use href="#dm"/><text class="b" x="6.5" y="4.3">AB/Kor/CN70/2014 H1N1</text></g>
<g id="a55" transform="translate(420,795.4)"><use href="#dm"/><text class="b" x="6.5" y="4.3">Gs/Kor/CN96/2016 H1N1</text></g>
<g id="a56" transform="translate(375.6,809)"><use href="#dm"/><text x="6.5" y="4.3">Dk/Miyazaki/450307/2016 HxN1</text></g>
<g id="a57" transform="translate(408,822.6)"><use href="#dm"/><text class="b" x="6.5" y="4.3">AB/Kor/CN95/2015 H1N1</text></g>
<g id="a58" transform="translate(393,836.2)"><use href="#dm"/><text x="6.5" y="4.3">Cr/Kor/1176/2016 H1N1</text></g>
<g id="a59" transform="translate(372.3,849.8)"><use href="#dm"/><text x="6.5" y="4.3">Dk/Mongolia/520/2015 H1N1</text></g>
<g id="a60" transform="translate(382.7,863.4)"><use href="#dm"/><text class="b" x="6.5" y="4.3">Gs/Kor/CN105/2016 H6N1</text></g>
<g id="a61" transform="translate(410.8,877)"><use href="#dm"/><text x="6.5" y="4.3">Dk/Vietnam/HN4797/2018 H3N1</text></g>
<g id="a62" transform="translate(432.5,890.6)"><use href="#dm"/><text x="6.5" y="4.3">Md/Kor/H2761/2018 H10N1</text></g>
<g id="a63" transform="translate(414.6,904.2)"><use href="#dm"/><text class="b" x="6.5" y="4.3">AB/Kor/CN108/2017 H1N1</text></g>
<g id="a64" transform="translate(418.3,917.8)"><use href="#dm"/><text class="b" x="6.5" y="4.3">AB/Kor/CN109/2017 H1N1</text></g>
<g id="a65" transform="translate(411.3,931.4)"><use href="#dm"/><text class="b" x="6.5" y="4.3">AB/Kor/JB21/2018 H1N1</text></g>
<g id="a66" transform="translate(453.6,945)"><use href="#dm"/><text x="6.5" y="4.3">Gs/Kor/2121/2021 H6N1</text></g>
<g id="a67" transform="translate(422,958.6)"><use href="#dm"/><text x="6.5" y="4.3">Tl/Buryatia/89i/2019 H1N1</text></g>
<g id="a68" transform="translate(446.9,972.2)"><use href="#dm"/><text x="6.5" y="4.3">Dk/Kor/KNU201826/2020 H1N1</text></g>
<g id="a69" transform="translate(457.7,985.8)"><use href="#dm"/><text x="6.5" y="4.3">Dk/Kor/KNU202058/2020 H1N1</text></g>
<g id="a70" transform="translate(461.1,999.4)"><use href="#dm"/><text x="6.5" y="4.3">Md/Kor/KNU20219/2021 H1N1</text></g>
<g id="a71" transform="translate(350.8,1013)"><use href="#dm"/><text x="6.5" y="4.3">AB/Kor/sw004/2016 H1N1</text></g>
<g id="a72" transform="translate(350.8,1026.6)"><use href="#dm"/><text x="6.5" y="4.3">Gs/Hubei/chenhu_VIII35/2015 H1N1</text></g>
<g id="a73" transform="translate(350.8,1040.2)"><use href="#dm"/><text x="6.5" y="4.3">WB/Kor/SK14/2014 H1N1</text></g>
<g id="a74" transform="translate(408.3,1053.8)"><use href="#dm"/><text x="6.5" y="4.3">WB/SAus/83/2016 HxN1</text></g>
<g id="a75" transform="translate(422.9,1067.4)"><use href="#dm"/><text x="6.5" y="4.3">Tl/Victoria/GT001/2017 H9N1</text></g>
<g id="a76" transform="translate(397.1,1081)"><use href="#dm"/><text x="6.5" y="4.3">Dk/Victoria/22/2017 H5N1</text></g>
<g id="a77" transform="translate(372.3,1094.6)"><use href="#dm"/><text class="p" x="6.5" y="4.3">Pt/AK/UGAI156994/2015 H6N1</text></g>
<g id="a78" transform="translate(375.6,1108.2)"><use href="#dm"/><text x="6.5" y="4.3">Dk/Kagoshima/KUd26/2016 H1N1</text></g>
<g id="a79" transform="translate(382.7,1121.8)"><use href="#dm"/><text class="p" x="6.5" y="4.3">Dk/IL/1650/2016 H6N1</text></g>
<g id="a80" transform="translate(381.5,1135.4)"><use href="#dm"/><text class="p" x="6.5" y="4.3">Tl/AK/068ET1/2019 H6N1</text></g>
<g id="a81" transform="translate(397.1,1149)"><use href="#dm"/><text class="p" x="6.5" y="4.3">Pt/AK/AK20419/2020 H1N1</text></g>
<g id="a82" transform="translate(389.7,1162.6)"><use href="#dm"/><text x="6.5" y="4.3">Ck/Zhejiang/1664/2017 H6N1</text></g>
<g id="a83" transform="translate(375.6,1176.2)"><use href="#dm"/><text x="6.5" y="4.3">Gs/Korea/H9091/2017 H6N1</text></g>
<g id="a84" transform="translate(382.7,1189.8)"><use href="#dm"/><text class="b" x="6.5" y="4.3">AB/Kor/JB16/2016 H6N1</text></g>
<g id="a85" transform="translate(379.4,1203.4)"><use href="#dm"/><text x="6.5" y="4.3">Gs/Korea/H952/2017 H6N1</text></g>
<g id="a86" transform="translate(414.6,1217)"><use href="#dm"/><text class="b" x="6.5" y="4.3">AB/Kor/JB24/2018 H6N1</text></g>
<g id="a87" transform="translate(411.3,1230.6)"><use href="#dm"/><text class="b" x="6.5" y="4.3">AB/Kor/JB27/2018 H6N1</text></g>
<g id="a88" transform="translate(418.3,1244.2)"><use href="#dm"/><text class="b" x="6.5" y="4.3">AB/Kor/JB22/2018 H6N1</text></g>
<g id="a89" transform="translate(382.7,1257.8)"><use href="#dm"/><text x="6.5" y="4.3">Gs/Kor/F276/2017 H6N1</text></g>
<g id="a90" transform="translate(379.4,1271.4)"><use href="#dm"/><text x="6.5" y="4.3">AB/Kor/F145/2016 H6N1</text></g>
<g id="a91" transform="translate(391.8,1285)"><use href="#dm"/><text class="b" x="6.5" y="4.3">Gs/Kor/CN103/2016 H6N1</text></g>
<g id="a92" transform="translate(400.5,1298.6)"><use href="#dm"/><text class="b" x="6.5" y="4.3">Gs/Kor/CN102/2016 H6N1</text></g>
<g id="a93" transform="translate(418.8,1312.2)"><use href="#dm"/><text x="6.5" y="4.3">Dk/Kor/KNU2018113/2018 H7N1</text></g>
<g id="a94" transform="translate(404.2,1325.8)"><use href="#dm"/><text class="b" x="6.5" y="4.3">Gs/Kor/CN104/2016 H6N1</text></g>
<g id="a95" transform="translate(412.6,1339.4)"><use href="#dm"/><text class="b" x="6.5" y="4.3">Gs/Kor/CN100/2016 H6N1</text></g>
<g id="a96" transform="translate(414.6,1353)"><use href="#dm"/><text class="b" x="6.5" y="4.3">Gs/Kor/CN106/2016 H6N1</text></g>
<g id="a97" transform="translate(414.6,1366.6)"><use href="#dm"/><text class="b" x="6.5" y="4.3">Gs/Kor/CN99/2016 H6N1</text></g>
</g>
<g id="leaves-N2" class="lf">
<g id="b1" transform="translate(987.2,63.3)"><use href="#dm"/><text x="6.5" y="4.3">Fc/England/2051/1991 H5N2</text></g>
<g id="b2" transform="translate(804.1,76.9)"><use href="#dm"/><text x="6.5" y="4.3">Dk/EChina/164/2002 H6N2</text></g>
<g id="b3" transform="translate(967.9,90.5)"><use href="#dm"/><text x="6.5" y="4.3">GS/SAfrica/AI1556/2008 H4N2</text></g>
<g id="b4" transform="translate(927.9,104.1)"><use href="#dm"/><text x="6.5" y="4.3">Cr/Zhaotong/ZT12/2013 H1N2</text></g>
<g id="b5" transform="translate(937.6,117.7)"><use href="#dm"/><text x="6.5" y="4.3">AB/Cheonan/408/2012 H9N2</text></g>
<g id="b6" transform="translate(977.1,131.3)"><use href="#dm"/><text x="6.5" y="4.3">Ck/Wuhan/WHJF/2014 H5N2</text></g>
<g id="b7" transform="translate(996.4,144.9)"><use href="#dm"/><text x="6.5" y="4.3">Dk/Ibaraki/081006/2017 H9N2</text></g>
<g id="b8" transform="translate(957.8,158.5)"><use href="#dm"/><text x="6.5" y="4.3">Gs/Kor/F563/2017 H6N2</text></g>
<g id="b9" transform="translate(1027.2,172.1)"><use href="#dm"/><text class="b" x="6.5" y="4.3">Gs/Kor/CN98/2016 H6N2</text></g>
<g id="b10" transform="translate(991.4,185.7)"><use href="#dm"/><text class="b" x="6.5" y="4.3">Gs/Kor/CN101/2016 H6N2</text></g>
<g id="b11" transform="translate(972.1,199.3)"><use href="#dm"/><text x="6.5" y="4.3">Dk/Kor/H99310/2017 H7N2</text></g>
<g id="b12" transform="translate(995.7,212.9)"><use href="#dm"/><text class="b" x="6.5" y="4.3">Gs/Kor/CN97/2016 H6N2</text></g>
<g id="b13" transform="translate(887.8,226.5)"><use href="#dm"/><text x="6.5" y="4.3">Dk/Ukraine/V2312/2010 H1N2</text></g>
<g id="b14" transform="translate(912.3,240.1)"><use href="#dm"/><text x="6.5" y="4.3">Md/Georgia/13/2011 H6N2</text></g>
<g id="b15" transform="translate(962.8,253.7)"><use href="#dm"/><text x="6.5" y="4.3">Dk/Georgia/1/2015 H6N2</text></g>
<g id="b16" transform="translate(917.4,267.3)"><use href="#dm"/><text x="6.5" y="4.3">Gs/Ukraine/AN02/2013 H9N2</text></g>
<g id="b17" transform="translate(932.5,280.9)"><use href="#dm"/><text x="6.5" y="4.3">Md/Tumuji/TMJ748/2013 H6N2</text></g>
<g id="b18" transform="translate(946.8,294.5)"><use href="#dm"/><text x="6.5" y="4.3">AB/Kor/CN50/2013 H6N2</text></g>
<g id="b19" transform="translate(952.2,308.1)"><use href="#dm"/><text x="6.5" y="4.3">Dk/Mongolia/141/2015 H10N2</text></g>
<g id="b20" transform="translate(932,321.7)"><use href="#dm"/><text x="6.5" y="4.3">Gs/Anhui/L180/2014 H6N2</text></g>
<g id="b21" transform="translate(962.8,335.3)"><use href="#dm"/><text x="6.5" y="4.3">Dk/India/12CL22/2015 H6N2</text></g>
<g id="b22" transform="translate(983.4,348.9)"><use href="#dm"/><text x="6.5" y="4.3">Dk/Bangladesh/31019/2016 H3N2</text></g>
<g id="b23" transform="translate(957.8,362.5)"><use href="#dm"/><text x="6.5" y="4.3">Dk/Mongolia/820/2019 H4N2</text></g>
<g id="b24" transform="translate(971.7,376.1)"><use href="#dm"/><text class="b" x="6.5" y="4.3">AB/Kor/JB25/2018 H5N2</text></g>
<g id="b25" transform="translate(1012.1,389.7)"><use href="#dm"/><text x="6.5" y="4.3">Gs/Iran/C238/2019 H9N2</text></g>
<g id="b26" transform="translate(1022.2,403.3)"><use href="#dm"/><text x="6.5" y="4.3">Dk/Bangladesh/90/2020 H3N2</text></g>
<g id="b27" transform="translate(1012.1,416.9)"><use href="#dm"/><text x="6.5" y="4.3">Gs/Kor/39/2021 H9N2</text></g>
<g id="b28" transform="translate(912.3,430.5)"><use href="#dm"/><text x="6.5" y="4.3">Dk/Bulgaria/174/2009 H6N2</text></g>
<g id="b29" transform="translate(906.8,444.1)"><use href="#dm"/><text x="6.5" y="4.3">Dk/Guangxi/141/2005 H6N2</text></g>
<g id="b30" transform="translate(892.5,457.7)"><use href="#dm"/><text x="6.5" y="4.3">Md/Sweden/58451/2006 H2N2</text></g>
<g id="b31" transform="translate(921.9,471.3)"><use href="#dm"/><text x="6.5" y="4.3">Md/Finland/13748/2007 H5N2</text></g>
<g id="b32" transform="translate(906.8,484.9)"><use href="#dm"/><text x="6.5" y="4.3">Md/Jiangxi/8264/2004 H6N2</text></g>
<g id="b33" transform="translate(957.8,498.5)"><use href="#dm"/><text x="6.5" y="4.3">Ck/Guangdong/01/2013 H3N2</text></g>
<g id="b34" transform="translate(955.3,512.1)"><use href="#dm"/><text x="6.5" y="4.3">AB/Kor/w216/2007 H5N2</text></g>
<g id="b35" transform="translate(1007.4,525.7)"><use href="#dm"/><text x="6.5" y="4.3">Ps/Kor/N12030/2012 H9N2</text></g>
<g id="b36" transform="translate(947.2,539.3)"><use href="#dm"/><text x="6.5" y="4.3">Ck/Kor/WR09/2009 H9N2</text></g>
<g id="b37" transform="translate(976.7,552.9)"><use href="#dm"/><text x="6.5" y="4.3">AB/Kor/CN2/2009 H5N2</text></g>
<g id="b38" transform="translate(1017.1,566.5)"><use href="#dm"/><text x="6.5" y="4.3">AB/Kor/CN21/2011 H5N2</text></g>
<g id="b39" transform="translate(1104.6,580.1)"><use href="#dm"/><text x="6.5" y="4.3">AB/WAus/11695/2013 H2N2</text></g>
<g id="b40" transform="translate(956.9,593.7)"><use href="#dm"/><text x="6.5" y="4.3">Dk/Japan/036/2009 H5N2</text></g>
<g id="b41" transform="translate(947.2,607.3)"><use href="#dm"/><text x="6.5" y="4.3">WB/Kor/A81/2009 H5N2</text></g>
<g id="b42" transform="translate(951.9,620.9)"><use href="#dm"/><text x="6.5" y="4.3">Dk/Kor/A93/2008 H5N2</text></g>
<g id="b43" transform="translate(1090.7,634.5)"><use href="#dm"/><text x="6.5" y="4.3">Gl/AK/458/2013 H13N2</text></g>
<g id="b44" transform="translate(972.1,648.1)"><use href="#dm"/><text x="6.5" y="4.3">Tl/Xianghai/421/2011 H9N2</text></g>
<g id="b45" transform="translate(1017.5,661.7)"><use href="#dm"/><text class="b" x="6.5" y="4.3">AB/Kor/CN93/2015 H6N2</text></g>
<g id="b46" transform="translate(1036.1,675.3)"><use href="#dm"/><text x="6.5" y="4.3">Dk/Hokk/OBF2/2018 H3N2</text></g>
<g id="b47" transform="translate(986.3,688.9)"><use href="#dm"/><text x="6.5" y="4.3">Dk/Hokk/166/2014 H5N2</text></g>
<g id="b48" transform="translate(1087.8,702.5)"><use href="#dm"/><text x="6.5" y="4.3">Tl/Kor/KNU75/2019 H4N2</text></g>
<g id="b49" transform="translate(1099.2,716.1)"><use href="#dm"/><text x="6.5" y="4.3">Dk/Hokk/M79/2020 H12N2</text></g>
<g id="b50" transform="translate(1026.4,729.7)"><use href="#dm"/><text x="6.5" y="4.3">Dk/Vietnam/OIE21/2011 H6N2</text></g>
<g id="b51" transform="translate(1015.4,743.3)"><use href="#dm"/><text x="6.5" y="4.3">AB/Kor/GN04/2013 H9N2</text></g>
<g id="b52" transform="translate(1056.3,756.9)"><use href="#dm"/><text x="6.5" y="4.3">Envi/Vietnam/HU11423/2014 H6N2</text></g>
<g id="b53" transform="translate(1015.4,770.5)"><use href="#dm"/><text class="b" x="6.5" y="4.3">AB/Kor/CN89/2014 H1N2</text></g>
<g id="b54" transform="translate(1045.3,784.1)"><use href="#dm"/><text x="6.5" y="4.3">AB/Kor/S245/2016 H6N2</text></g>
<g id="b55" transform="translate(1020.9,797.7)"><use href="#dm"/><text class="b" x="6.5" y="4.3">AB/Kor/CN76/2014 H1N2</text></g>
<g id="b56" transform="translate(1020.9,811.3)"><use href="#dm"/><text x="6.5" y="4.3">Dk/Hokk/K04/2014 H9N2</text></g>
<g id="b57" transform="translate(1010.3,824.9)"><use href="#dm"/><text class="b" x="6.5" y="4.3">AB/Kor/CN73/2014 H5N2</text></g>
<g id="b58" transform="translate(1025.1,838.5)"><use href="#dm"/><text class="b" x="6.5" y="4.3">AB/Kor/CN94/2015 H6N2</text></g>
<g id="b59" transform="translate(1034.3,852.1)"><use href="#dm"/><text class="b" x="6.5" y="4.3">AB/Kor/CN87/2014 H6N2</text></g>
<g id="b60" transform="translate(1030.5,865.7)"><use href="#dm"/><text class="b" x="6.5" y="4.3">AB/Kor/CN69/2014 H6N2</text></g>
<g id="b61" transform="translate(1050.7,879.3)"><use href="#dm"/><text x="6.5" y="4.3">Md/Kor/M219/2014 H6N2</text></g>
<g id="b62" transform="translate(1044.9,892.9)"><use href="#dm"/><text class="b" x="6.5" y="4.3">AB/Kor/JB13/2016 H6N2</text></g>
<g id="b63" transform="translate(1075.2,906.5)"><use href="#dm"/><text x="6.5" y="4.3">Gs/Yunlin/201/2018 H5N2</text></g>
<g id="b64" transform="translate(1039.9,920.1)"><use href="#dm"/><text x="6.5" y="4.3">Pt/Taiwan/WB2477/2017 H6N2</text></g>
<g id="b65" transform="translate(1079.8,933.7)"><use href="#dm"/><text x="6.5" y="4.3">Ts/Tasmania/14024/2019 H12N2</text></g>
<g id="b66" transform="translate(1100.5,947.3)"><use href="#dm"/><text x="6.5" y="4.3">WB/Shandong/11706/2019 H9N2</text></g>
</g>
<g id="leaves-N3" class="lf">
<g id="c1" transform="translate(1584,60)"><use href="#dm"/><text x="6.5" y="4.3">Tn/SAfrica/1959 H5N3</text></g>
<g id="c2" transform="translate(1611,73.6)"><use href="#dm"/><text x="6.5" y="4.3">Ck/QLD/1994 H7N3</text></g>
<g id="c3" transform="translate(1695,87.2)"><use href="#dm"/><text x="6.5" y="4.3">Dk/Victoria/022855/2014 H7N3</text></g>
<g id="c4" transform="translate(1434.2,100.8)"><use href="#dm"/><text x="6.5" y="4.3">Md/Sweden/1883/2003 H4N3</text></g>
<g id="c5" transform="translate(1518.5,114.4)"><use href="#dm"/><text x="6.5" y="4.3">Md/Norway/1781/2006 H12N3</text></g>
<g id="c6" transform="translate(1474.4,128)"><use href="#dm"/><text x="6.5" y="4.3">Md/Netherlands/36/2006 H5N3</text></g>
<g id="c7" transform="translate(1544.9,141.6)"><use href="#dm"/><text x="6.5" y="4.3">Md/Georgia/3/2010 H7N3</text></g>
<g id="c8" transform="translate(1522.1,155.2)"><use href="#dm"/><text x="6.5" y="4.3">Md/Sweden/101900/2009 H4N3</text></g>
<g id="c9" transform="translate(1577.6,168.8)"><use href="#dm"/><text x="6.5" y="4.3">Ts/Iceland/3655/2014 H1N3</text></g>
<g id="c10" transform="translate(1584.6,182.4)"><use href="#dm"/><text x="6.5" y="4.3">Dk/Moscow/4952/2013 H5N3</text></g>
<g id="c11" transform="translate(1603.2,196)"><use href="#dm"/><text x="6.5" y="4.3">Dk/Hunan/HN2101/2013 H1N3</text></g>
<g id="c12" transform="translate(1546.7,209.6)"><use href="#dm"/><text x="6.5" y="4.3">Tk/Italy/2043/2003 H7N3</text></g>
<g id="c13" transform="translate(1651.3,223.2)"><use href="#dm"/><text x="6.5" y="4.3">AB/Cheonan/107/2006 H1N3</text></g>
<g id="c14" transform="translate(1553.2,236.8)"><use href="#dm"/><text x="6.5" y="4.3">Dk/Chiba/1/2006 H5N3</text></g>
<g id="c15" transform="translate(1540.7,250.4)"><use href="#dm"/><text x="6.5" y="4.3">Dk/Kor/KNUSYG06/2006 H5N3</text></g>
<g id="c16" transform="translate(1512.9,264)"><use href="#dm"/><text x="6.5" y="4.3">Dk/Jiangxi/860/2006 H10N3</text></g>
<g id="c17" transform="translate(1508.2,277.6)"><use href="#dm"/><text x="6.5" y="4.3">AB/Kor/MA44/2011 H7N3</text></g>
<g id="c18" transform="translate(1505.4,291.2)"><use href="#dm"/><text x="6.5" y="4.3">AB/Kor/w44/2005 H7N3</text></g>
<g id="c19" transform="translate(1509.6,304.8)"><use href="#dm"/><text x="6.5" y="4.3">Md/Sweden/53/2003 H2N3</text></g>
<g id="c20" transform="translate(1489.7,318.4)"><use href="#dm"/><text x="6.5" y="4.3">Md/Sweden/99/2002 H2N3</text></g>
<g id="c21" transform="translate(1653.2,332)"><use href="#dm"/><text x="6.5" y="4.3">Gs/Karachi/969/2014 H14N3</text></g>
<g id="c22" transform="translate(1577.2,345.6)"><use href="#dm"/><text x="6.5" y="4.3">Md/Portugal/99013/2009 H11N3</text></g>
<g id="c23" transform="translate(1610.1,359.2)"><use href="#dm"/><text x="6.5" y="4.3">Dk/Kagoshima/4604/2014 H5N3</text></g>
<g id="c24" transform="translate(1641.1,372.8)"><use href="#dm"/><text x="6.5" y="4.3">Dk/Cambodia/33M3/2015 H7N3</text></g>
<g id="c25" transform="translate(1620.3,386.4)"><use href="#dm"/><text x="6.5" y="4.3">WB/Kor/H2292/2015 H5N3</text></g>
<g id="c26" transform="translate(1632.4,400)"><use href="#dm"/><text class="b" x="6.5" y="4.3">AB/Kor/CN83/2014 H1N3</text></g>
<g id="c27" transform="translate(1627.2,413.6)"><use href="#dm"/><text class="b" x="6.5" y="4.3">AB/Kor/CN84/2014 H5N3</text></g>
<g id="c28" transform="translate(1623.5,427.2)"><use href="#dm"/><text class="b" x="6.5" y="4.3">AB/Kor/CN79/2014 H5N3</text></g>
<g id="c29" transform="translate(1636.5,440.8)"><use href="#dm"/><text x="6.5" y="4.3">Md/Ukraine/Kur11/2011 H2N3</text></g>
<g id="c30" transform="translate(1642.5,454.4)"><use href="#dm"/><text x="6.5" y="4.3">Tl/Egypt/MB125OP/2015 H7N3</text></g>
<g id="c31" transform="translate(1617.1,468)"><use href="#dm"/><text x="6.5" y="4.3">Dk/Georgia/1/2012 H2N3</text></g>
<g id="c32" transform="translate(1667.5,481.6)"><use href="#dm"/><text x="6.5" y="4.3">Dk/Mongolia/518/2015 H10N3</text></g>
<g id="c33" transform="translate(1664.7,495.2)"><use href="#dm"/><text x="6.5" y="4.3">Dk/Mongolia/482/2015 H2N3</text></g>
<g id="c34" transform="translate(1667.5,508.8)"><use href="#dm"/><text x="6.5" y="4.3">Tl/Egypt/MB487OP/2016 H7N3</text></g>
<g id="c35" transform="translate(1692.5,522.4)"><use href="#dm"/><text x="6.5" y="4.3">Dk/Mongolia/782/2017 H7N3</text></g>
<g id="c36" transform="translate(1745.3,536)"><use href="#dm"/><text x="6.5" y="4.3">Dk/Bangladesh/41433/2019 H7N3</text></g>
<g id="c37" transform="translate(1745.3,549.6)"><use href="#dm"/><text x="6.5" y="4.3">Md/Ukraine/AN01/2020 H7N3</text></g>
<g id="c38" transform="translate(1526.8,563.2)"><use href="#dm"/><text x="6.5" y="4.3">AB/Jeonju/385/2009 H2N3</text></g>
<g id="c39" transform="translate(1507.4,576.8)"><use href="#dm"/><text x="6.5" y="4.3">Dk/Hokkaido/167/2007 H5N3</text></g>
<g id="c40" transform="translate(1494.3,590.4)"><use href="#dm"/><text x="6.5" y="4.3">Dk/Kor/BC10/2007 H7N3</text></g>
<g id="c41" transform="translate(1596.3,604)"><use href="#dm"/><text x="6.5" y="4.3">AB/Kor/w209/2007 H5N3</text></g>
<g id="c42" transform="translate(1562.4,617.6)"><use href="#dm"/><text x="6.5" y="4.3">Dk/Saga/411114/2013 H10N3</text></g>
<g id="c43" transform="translate(1538.3,631.2)"><use href="#dm"/><text x="6.5" y="4.3">Dk/Hokk/327/2009 H1N3</text></g>
<g id="c44" transform="translate(1567.9,644.8)"><use href="#dm"/><text x="6.5" y="4.3">Dk/Thailand/836C/2011 H1N3</text></g>
<g id="c45" transform="translate(1590.1,658.4)"><use href="#dm"/><text class="p" x="6.5" y="4.3">Gs/OR/2241/2016 H5N3</text></g>
<g id="c46" transform="translate(1555,672)"><use href="#dm"/><text x="6.5" y="4.3">Dk/Mongolia/194/2011 H5N3</text></g>
<g id="c47" transform="translate(1596.3,685.6)"><use href="#dm"/><text x="6.5" y="4.3">Dk/Hokkaido/W280/2014 H5N3</text></g>
<g id="c48" transform="translate(1583.2,699.2)"><use href="#dm"/><text x="6.5" y="4.3">WB/Niigata/151015/2013 H5N3</text></g>
<g id="c49" transform="translate(1576.3,712.8)"><use href="#dm"/><text x="6.5" y="4.3">AB/Kor/CN51/2013 H6N3</text></g>
<g id="c50" transform="translate(1585.6,726.4)"><use href="#dm"/><text class="b" x="6.5" y="4.3">AB/Kor/CN65/2014 H11N3</text></g>
<g id="c51" transform="translate(1591.1,740)"><use href="#dm"/><text class="b" x="6.5" y="4.3">AB/Kor/CN90/2014 H11N3</text></g>
<g id="c52" transform="translate(1583.2,753.6)"><use href="#dm"/><text class="b" x="6.5" y="4.3">AB/Kor/CN88/2014 H11N3</text></g>
<g id="c53" transform="translate(1589.3,767.2)"><use href="#dm"/><text class="b" x="6.5" y="4.3">AB/Kor/CN62/2014 H1N3</text></g>
<g id="c54" transform="translate(1592.9,780.8)"><use href="#dm"/><text x="6.5" y="4.3">Dk/Kor/H1862/2014 H5N3</text></g>
<g id="c55" transform="translate(1592.9,794.4)"><use href="#dm"/><text x="6.5" y="4.3">Gs/Taiwan/01038/2015 H5N3</text></g>
<g id="c56" transform="translate(1589.3,808)"><use href="#dm"/><text x="6.5" y="4.3">Ck/Taiwan/01174/2015 H5N3</text></g>
<g id="c57" transform="translate(1586,821.6)"><use href="#dm"/><text x="6.5" y="4.3">Dk/Pingtung/15010180/2015 H5N3</text></g>
<g id="c58" transform="translate(1586,835.2)"><use href="#dm"/><text x="6.5" y="4.3">Dk/Pingtung/80/2015 H5N3</text></g>
<g id="c59" transform="translate(1586,848.8)"><use href="#dm"/><text x="6.5" y="4.3">Ck/Taiwan/a174/2015 H5N3</text></g>
<g id="c60" transform="translate(1583.8,862.4)"><use href="#dm"/><text class="b" x="6.5" y="4.3">AB/Kor/CN82/2014 H1N3</text></g>
<g id="c61" transform="translate(1592.5,876)"><use href="#dm"/><text class="b" x="6.5" y="4.3">AB/Kor/CN71/2014 H5N3</text></g>
<g id="c62" transform="translate(1587.9,889.6)"><use href="#dm"/><text class="b" x="6.5" y="4.3">AB/Kor/CN72/2014 H5N3</text></g>
<g id="c63" transform="translate(1589.3,903.2)"><use href="#dm"/><text class="b" x="6.5" y="4.3">AB/Kor/CN80/2014 H5N3</text></g>
<g id="c64" transform="translate(1597.6,916.8)"><use href="#dm"/><text class="b" x="6.5" y="4.3">AB/Kor/CN92/2014 H5N3</text></g>
<g id="c65" transform="translate(1592.1,930.4)"><use href="#dm"/><text x="6.5" y="4.3">Dk/Tottori/K191/2015 H5N3</text></g>
<g id="c66" transform="translate(1592.1,944)"><use href="#dm"/><text class="b" x="6.5" y="4.3">AB/Kor/CN60/2014 H5N3</text></g>
<g id="c67" transform="translate(1605.4,957.6)"><use href="#dm"/><text x="6.5" y="4.3">Dk/Anhui/FA258/2013 H1N3</text></g>
<g id="c68" transform="translate(1592.1,971.2)"><use href="#dm"/><text x="6.5" y="4.3">Dk/Jiangxi/33763/2013 H10N3</text></g>
<g id="c69" transform="translate(1589.3,984.8)"><use href="#dm"/><text x="6.5" y="4.3">Dk/Jiangxi/33663/2013 H10N3</text></g>
<g id="c70" transform="translate(1592.9,998.4)"><use href="#dm"/><text x="6.5" y="4.3">Dk/Mongolia/451/2013 H10N3</text></g>
<g id="c71" transform="translate(1716.1,1012)"><use href="#dm"/><text x="6.5" y="4.3">Dk/Bangladesh/41849/2019 H1N3</text></g>
<g id="c72" transform="translate(1713.8,1025.6)"><use href="#dm"/><text x="6.5" y="4.3">Dk/Bangladesh/45997/2020 H1N3</text></g>
<g id="c73" transform="translate(1717.5,1039.2)"><use href="#dm"/><text x="6.5" y="4.3">Dk/Kor/KNU202116/2021 H7N3</text></g>
<g id="c74" transform="translate(1655,1052.8)"><use href="#dm"/><text x="6.5" y="4.3">Dk/Mongolia/934/2018 H2N3</text></g>
<g id="c75" transform="translate(1617.9,1066.4)"><use href="#dm"/><text x="6.5" y="4.3">AB/Kor/sw007/2015 H5N3</text></g>
<g id="c76" transform="translate(1626.8,1080)"><use href="#dm"/><text class="b" x="6.5" y="4.3">Gs/Kor/JB19/2016 H5N3</text></g>
<g id="c77" transform="translate(1626.8,1093.6)"><use href="#dm"/><text class="b" x="6.5" y="4.3">Gs/Kor/JB17/2016 H5N3</text></g>
<g id="c78" transform="translate(1621.3,1107.2)"><use href="#dm"/><text x="6.5" y="4.3">Dk/Kor/A4413/2016 H5N3</text></g>
<g id="c79" transform="translate(1624,1120.8)"><use href="#dm"/><text x="6.5" y="4.3">Gs/Kor/H886/2017 H5N3</text></g>
<g id="c80" transform="translate(1633.8,1134.4)"><use href="#dm"/><text x="6.5" y="4.3">Pt/Taiwan/WB2478/2017 H1N3</text></g>
<g id="c81" transform="translate(1636.5,1148)"><use href="#dm"/><text x="6.5" y="4.3">Dk/Jiangsu/261/2018 H5N3</text></g>
<g id="c82" transform="translate(1665.7,1161.6)"><use href="#dm"/><text x="6.5" y="4.3">Dk/Vietnam/HN5076/2018 H5N3</text></g>
<g id="c83" transform="translate(1646.7,1175.2)"><use href="#dm"/><text x="6.5" y="4.3">Md/Kor/KNU201925/2019 H7N3</text></g>
</g>
</svg>
